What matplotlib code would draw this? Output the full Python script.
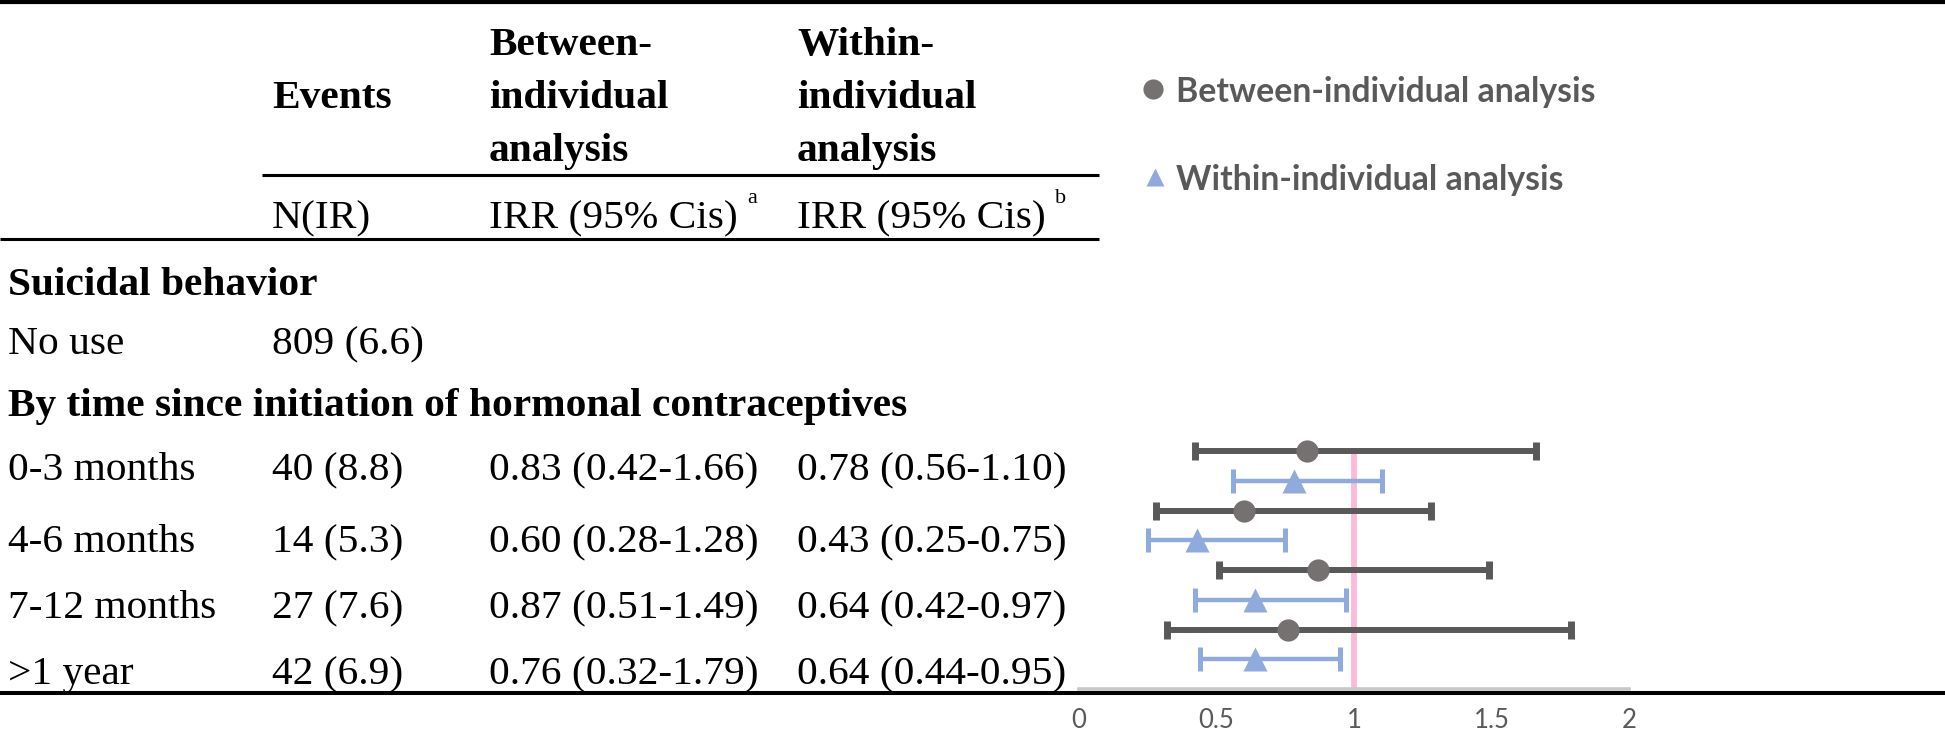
import matplotlib
matplotlib.use("Agg")
import matplotlib.pyplot as plt
from matplotlib.lines import Line2D

# ---------------- data ----------------
row_labels = ["0-3 months", "4-6 months", "7-12 months", ">1 year"]
events = ["40 (8.8)", "14 (5.3)", "27 (7.6)", "42 (6.9)"]
no_use_events = "809 (6.6)"
between_est = [0.83, 0.60, 0.87, 0.76]
between_lo = [0.42, 0.28, 0.51, 0.32]
between_hi = [1.66, 1.28, 1.49, 1.79]
within_est = [0.78, 0.43, 0.64, 0.64]
within_lo = [0.56, 0.25, 0.42, 0.44]
within_hi = [1.10, 0.75, 0.97, 0.95]
x_ticks = [0, 0.5, 1, 1.5, 2]
x_tick_labels = ["0", "0.5", "1", "1.5", "2"]
ref_value = 1.0

# ---------------- layout helpers ----------------
W, H, DPI = 1945, 734, 100
fig = plt.figure(figsize=(W / DPI, H / DPI), dpi=DPI)
fig.patch.set_facecolor("white")


def fx(px):
    return px / W


def fy(py):
    return 1 - py / H


SERIF = "Liberation Serif"
FS = 29.8
SANS = "Lato"

GREY_LINE = "#595959"
GREY_MARK = "#767171"
BLUE = "#8FAADC"
PINK = "#F9B4D5"


def ftext(px, py, s, bold=False, size=FS, **kw):
    return fig.text(fx(px), fy(py), s, fontsize=size, family=SERIF,
                    fontweight="bold" if bold else "normal",
                    va="baseline", ha="left", color="black", **kw)


def hline(x0, x1, py, lw):
    fig.add_artist(Line2D([fx(x0), fx(x1)], [fy(py), fy(py)],
                          transform=fig.transFigure, color="black", lw=lw,
                          solid_capstyle="butt"))


# ---------------- table ----------------
col_x = [8, 272, 489, 797]

# header
ftext(col_x[1], 108, "Events", bold=True)
for i, s in enumerate(["Between-", "individual", "analysis"]):
    ftext(col_x[2], 55 + 53 * i, s, bold=True)
for i, s in enumerate(["Within-", "individual", "analysis"]):
    ftext(col_x[3], 55 + 53 * i, s, bold=True)

ftext(col_x[1], 228, "N(IR)")
t_a = ftext(col_x[2], 228, "IRR (95% Cis)")
t_b = ftext(col_x[3], 228, "IRR (95% Cis)")

# section rows
ftext(col_x[0], 295, "Suicidal behavior", bold=True)
ftext(col_x[0], 354, "No use")
ftext(col_x[1], 354, no_use_events)
ftext(col_x[0], 416, "By time since initiation of hormonal contraceptives", bold=True)

row_base = [480, 552, 618, 684]
for i in range(len(row_labels)):
    y = row_base[i]
    ftext(col_x[0], y, row_labels[i])
    ftext(col_x[1], y, events[i])
    ftext(col_x[2], y, f"{between_est[i]:.2f} ({between_lo[i]:.2f}-{between_hi[i]:.2f})")
    ftext(col_x[3], y, f"{within_est[i]:.2f} ({within_lo[i]:.2f}-{within_hi[i]:.2f})")

# superscripts placed after the measured header text
fig.canvas.draw()
r = fig.canvas.get_renderer()
for t, s in [(t_a, "a"), (t_b, "b")]:
    bb = t.get_window_extent(renderer=r)
    fig.text((bb.x1 + 9) / W, fy(203), s, fontsize=16, family=SERIF,
             va="baseline", ha="left", color="black")

# rules
hline(0, W, 2, 3.0)
hline(262, 1099, 175, 2.2)
hline(0, 1099, 239, 2.2)

# ---------------- forest plot ----------------
unit = 29.75
ytop = 8.1
ax = fig.add_axes([fx(1079), fy(689), 550 / W, ytop * unit / H])
ax.set_xlim(0, 2)
ax.set_ylim(0, ytop)
ax.set_facecolor("none")

n = len(row_labels)
y_between = [2 * (n - i) for i in range(n)]
y_within = [2 * (n - i) - 1 for i in range(n)]

ax.axvline(ref_value, color=PINK, lw=4.2, alpha=0.9, zorder=1)

b_err = [[e - l for e, l in zip(between_est, between_lo)],
         [h - e for e, h in zip(between_est, between_hi)]]
w_err = [[e - l for e, l in zip(within_est, within_lo)],
         [h - e for e, h in zip(within_est, within_hi)]]

ax.errorbar(between_est, y_between, xerr=b_err, fmt="none", ecolor=GREY_LINE,
            elinewidth=4.3, capsize=6.5, capthick=5.0, zorder=2, clip_on=False)
ax.errorbar(within_est, y_within, xerr=w_err, fmt="none", ecolor=BLUE,
            elinewidth=3.2, capsize=8.3, capthick=3.6, zorder=2, clip_on=False)
ax.plot(between_est, y_between, "o", ms=16, color=GREY_MARK, mec="none",
        zorder=3, clip_on=False)
ax.plot(within_est, y_within, "^", ms=17, color=BLUE, mec="none",
        zorder=3, clip_on=False)

for sp in ["top", "left", "right"]:
    ax.spines[sp].set_visible(False)
ax.spines["bottom"].set_color("#C8C8C8")
ax.spines["bottom"].set_linewidth(2.6)
ax.set_yticks([])
ax.set_xticks(x_ticks)
ax.set_xticklabels(x_tick_labels, family=SANS, fontsize=18.5, color=GREY_LINE)
ax.tick_params(axis="x", length=0, pad=14)

# bottom black rule (full width)
hline(0, W, 693, 2.9)

# ---------------- legend ----------------
fig.add_artist(Line2D([fx(1153)], [fy(89)], marker="o", ms=14.5, color=GREY_MARK,
                      mec="none", transform=fig.transFigure))
fig.add_artist(Line2D([fx(1155)], [fy(177)], marker="^", ms=12.5, color=BLUE,
                      mec="none", transform=fig.transFigure))
fig.text(fx(1176), fy(102), "Between-individual analysis", family=SANS,
         fontweight="bold", fontsize=24.3, color=GREY_LINE, va="baseline")
fig.text(fx(1176), fy(190), "Within-individual analysis", family=SANS,
         fontweight="bold", fontsize=24.3, color=GREY_LINE, va="baseline")

fig.savefig("out.png", dpi=DPI, facecolor="white")
